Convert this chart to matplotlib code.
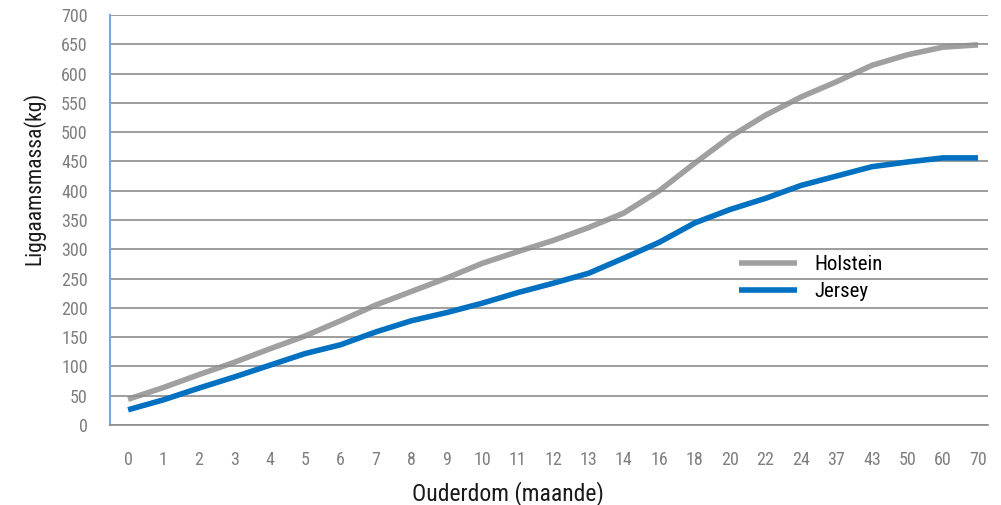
import matplotlib
matplotlib.use('Agg')
import matplotlib.pyplot as plt
from matplotlib import font_manager
import numpy as np

# kyk of daar 'n smal lettertipe beskikbaar is
names = set(f.name for f in font_manager.fontManager.ttflist)
narrow = [n for n in ['Liberation Sans Narrow', 'DejaVu Sans Condensed',
                      'Roboto Condensed', 'Open Sans Condensed'] if n in names]
plt.rcParams['font.family'] = narrow + ['DejaVu Sans']
plt.rcParams['font.stretch'] = 'condensed'

# ouderdom in maande (kategorie-as)
ages = ['0', '1', '2', '3', '4', '5', '6', '7', '8', '9', '10', '11', '12',
        '13', '14', '16', '18', '20', '22', '24', '37', '43', '50', '60', '70']

holstein = [44, 64, 86, 107, 130, 152, 178, 205, 228, 251, 276, 296, 315,
            337, 362, 400, 447, 492, 529, 560, 586, 614, 632, 645, 649]
jersey = [26, 43, 63, 82, 102, 122, 137, 159, 178, 192, 208, 226, 242,
          259, 285, 312, 345, 368, 387, 409, 425, 441, 449, 456, 456]

fig = plt.figure(figsize=(10.01, 5.05), dpi=100)
ax = fig.add_axes([0.1099, 0.1584, 0.8771, 0.8119])

x = np.arange(len(ages))
ax.plot(x, holstein, color='#8f8f8f', lw=4, alpha=0.85, label='Holstein',
        solid_capstyle='butt', zorder=3)
ax.plot(x, jersey, color='#0070c0', lw=4, label='Jersey',
        solid_capstyle='butt', zorder=3)

ax.set_xlim(-0.51, 24.28)
ax.set_ylim(0, 700)
ax.set_yticks(np.arange(0, 701, 50))
ax.set_xticks(x)
ax.set_xticklabels(ages)

ax.yaxis.grid(True, color='#8c8c8c', lw=1.2)
ax.set_axisbelow(True)
ax.tick_params(length=0, labelsize=13, labelcolor='#7f7f7f')
ax.tick_params(axis='y', pad=16)
ax.tick_params(axis='x', pad=19)

for s in ['top', 'right']:
    ax.spines[s].set_visible(False)
ax.spines['bottom'].set_color('#8c8c8c')
ax.spines['bottom'].set_linewidth(1.2)
ax.spines['left'].set_color('#7ea6dc')
ax.spines['left'].set_linewidth(1.5)

ax.set_ylabel('Liggaamsmassa(kg)', fontsize=15.5, color='#1a1a1a')
ax.yaxis.set_label_coords(-0.074, 0.602)
ax.set_xlabel('Ouderdom (maande)', fontsize=17, color='#1a1a1a', va='center')
ax.xaxis.set_label_coords(0.453, -0.166)

ax.legend(loc='upper left', bbox_to_anchor=(0.695, 0.46), frameon=False,
          fontsize=15, handlelength=2.8, handletextpad=0.8, labelspacing=0.4)

fig.savefig('out.png', dpi=100)
